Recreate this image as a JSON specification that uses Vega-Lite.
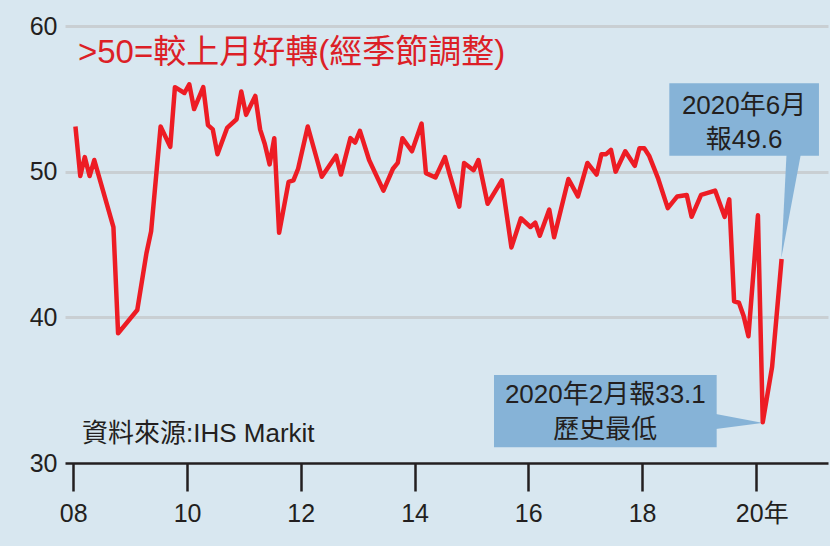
{
  "$schema": "https://vega.github.io/schema/vega-lite/v6.json",
  "width": 763,
  "height": 437,
  "autosize": {"type": "none"},
  "padding": {"left": 65, "top": 26, "right": 2, "bottom": 83},
  "background": "#d8e7f0",
  "config": {"view": {"stroke": null}, "font": "Liberation Sans, Noto Sans CJK TC"},
  "datasets": {
    "pmi": [
      {"date": "2008-01-15", "v": 53.1},
      {"date": "2008-02-15", "v": 49.7},
      {"date": "2008-03-15", "v": 51.0},
      {"date": "2008-04-15", "v": 49.7},
      {"date": "2008-05-15", "v": 50.8},
      {"date": "2008-09-15", "v": 46.2},
      {"date": "2008-10-15", "v": 38.9},
      {"date": "2009-02-15", "v": 40.5},
      {"date": "2009-04-15", "v": 44.4},
      {"date": "2009-05-15", "v": 45.9},
      {"date": "2009-07-15", "v": 53.1},
      {"date": "2009-09-15", "v": 51.7},
      {"date": "2009-10-15", "v": 55.8},
      {"date": "2009-12-15", "v": 55.4},
      {"date": "2010-01-15", "v": 56.0},
      {"date": "2010-02-15", "v": 54.3},
      {"date": "2010-04-15", "v": 55.8},
      {"date": "2010-05-15", "v": 53.2},
      {"date": "2010-06-15", "v": 52.9},
      {"date": "2010-07-15", "v": 51.2},
      {"date": "2010-09-15", "v": 53.0},
      {"date": "2010-11-15", "v": 53.6},
      {"date": "2010-12-15", "v": 55.5},
      {"date": "2011-01-15", "v": 53.9},
      {"date": "2011-03-15", "v": 55.2},
      {"date": "2011-04-15", "v": 52.9},
      {"date": "2011-05-15", "v": 51.9},
      {"date": "2011-06-15", "v": 50.5},
      {"date": "2011-07-15", "v": 52.3},
      {"date": "2011-08-15", "v": 45.8},
      {"date": "2011-10-15", "v": 49.3},
      {"date": "2011-11-15", "v": 49.4},
      {"date": "2011-12-15", "v": 50.2},
      {"date": "2012-02-15", "v": 53.1},
      {"date": "2012-05-15", "v": 49.65},
      {"date": "2012-08-15", "v": 51.1},
      {"date": "2012-09-15", "v": 49.8},
      {"date": "2012-11-15", "v": 52.3},
      {"date": "2012-12-15", "v": 52.0},
      {"date": "2013-01-15", "v": 52.8},
      {"date": "2013-03-15", "v": 50.8},
      {"date": "2013-06-15", "v": 48.7},
      {"date": "2013-08-15", "v": 50.2},
      {"date": "2013-09-15", "v": 50.6},
      {"date": "2013-10-15", "v": 52.3},
      {"date": "2013-12-15", "v": 51.4},
      {"date": "2014-02-15", "v": 53.3},
      {"date": "2014-03-15", "v": 49.9},
      {"date": "2014-05-15", "v": 49.6},
      {"date": "2014-07-15", "v": 51.0},
      {"date": "2014-08-15", "v": 49.8},
      {"date": "2014-10-15", "v": 47.6},
      {"date": "2014-11-15", "v": 50.6},
      {"date": "2015-01-15", "v": 50.1},
      {"date": "2015-02-15", "v": 50.8},
      {"date": "2015-04-15", "v": 47.8},
      {"date": "2015-07-15", "v": 49.4},
      {"date": "2015-09-15", "v": 44.8},
      {"date": "2015-11-15", "v": 46.8},
      {"date": "2016-01-15", "v": 46.2},
      {"date": "2016-02-15", "v": 46.5},
      {"date": "2016-03-15", "v": 45.6},
      {"date": "2016-05-15", "v": 47.4},
      {"date": "2016-06-15", "v": 45.5},
      {"date": "2016-09-15", "v": 49.5},
      {"date": "2016-11-15", "v": 48.3},
      {"date": "2017-01-15", "v": 50.6},
      {"date": "2017-03-15", "v": 49.8},
      {"date": "2017-04-15", "v": 51.2},
      {"date": "2017-05-15", "v": 51.2},
      {"date": "2017-06-15", "v": 51.5},
      {"date": "2017-07-15", "v": 50.0},
      {"date": "2017-09-15", "v": 51.4},
      {"date": "2017-11-15", "v": 50.4},
      {"date": "2017-12-15", "v": 51.6},
      {"date": "2018-01-15", "v": 51.6},
      {"date": "2018-02-15", "v": 51.1},
      {"date": "2018-04-15", "v": 49.5},
      {"date": "2018-06-15", "v": 47.5},
      {"date": "2018-08-15", "v": 48.3},
      {"date": "2018-10-15", "v": 48.4},
      {"date": "2018-11-15", "v": 46.9},
      {"date": "2019-01-15", "v": 48.4},
      {"date": "2019-04-15", "v": 48.7},
      {"date": "2019-06-15", "v": 46.9},
      {"date": "2019-07-15", "v": 48.1},
      {"date": "2019-08-15", "v": 41.1},
      {"date": "2019-09-15", "v": 41.0},
      {"date": "2019-10-15", "v": 40.1},
      {"date": "2019-11-15", "v": 38.7},
      {"date": "2020-01-15", "v": 47.0},
      {"date": "2020-02-15", "v": 32.8},
      {"date": "2020-04-15", "v": 36.6},
      {"date": "2020-06-15", "v": 44.0}
    ],
    "ptr1": [
      {"v": 51.5, "date": "2020-07-18", "date2": "2020-10-22"},
      {"v": 44.05, "date": "2020-06-13", "date2": "2020-06-13"}
    ],
    "ptr2": [
      {"date": "2019-04-20", "v": 33.36, "v2": 32.33},
      {"date": "2020-02-10", "v": 32.76, "v2": 32.74}
    ]
  },
  "layer": [
    {
      "data": {"values": [{}]},
      "mark": {"type": "rect", "color": "#86b3d7"},
      "encoding": {
        "x": {"datum": {"year": 2018, "month": 6, "date": 25, "utc": true}, "type": "temporal", "title": null},
        "x2": {"datum": {"year": 2021, "month": 2, "date": 10, "utc": true}},
        "y": {"datum": 56.07, "type": "quantitative", "title": null},
        "y2": {"datum": 51.1}
      }
    },
    {
      "data": {"values": [{}]},
      "mark": {"type": "rect", "color": "#86b3d7"},
      "encoding": {
        "x": {"datum": {"year": 2015, "month": 5, "date": 26, "utc": true}, "type": "temporal", "title": null},
        "x2": {"datum": {"year": 2019, "month": 4, "date": 25, "utc": true}},
        "y": {"datum": 36.04, "type": "quantitative", "title": null},
        "y2": {"datum": 31.08}
      }
    },
    {
      "data": {"name": "ptr1"},
      "mark": {"type": "area", "orient": "horizontal", "color": "#86b3d7"},
      "encoding": {
        "y": {"field": "v", "type": "quantitative", "title": null},
        "x": {"field": "date", "type": "temporal", "title": null},
        "x2": {"field": "date2"}
      }
    },
    {
      "data": {"name": "ptr2"},
      "mark": {"type": "area", "orient": "vertical", "color": "#86b3d7"},
      "encoding": {
        "x": {"field": "date", "type": "temporal", "title": null},
        "y": {"field": "v", "type": "quantitative", "title": null},
        "y2": {"field": "v2"}
      }
    },
    {
      "data": {"name": "pmi"},
      "mark": {"type": "line", "color": "#ed1c24", "strokeWidth": 4.5, "strokeJoin": "round", "strokeCap": "butt"},
      "encoding": {
        "x": {
          "field": "date",
          "type": "temporal",
          "title": null,
          "scale": {
            "type": "utc",
            "domain": [
              {"year": 2007, "month": 11, "date": 9, "utc": true},
              {"year": 2021, "month": 4, "date": 9, "utc": true}
            ]
          },
          "axis": {
            "values": [
              {"year": 2008, "month": 1, "date": 1, "utc": true},
              {"year": 2010, "month": 1, "date": 1, "utc": true},
              {"year": 2012, "month": 1, "date": 1, "utc": true},
              {"year": 2014, "month": 1, "date": 1, "utc": true},
              {"year": 2016, "month": 1, "date": 1, "utc": true},
              {"year": 2018, "month": 1, "date": 1, "utc": true},
              {"year": 2020, "month": 1, "date": 1, "utc": true}
            ],
            "labelExpr": "utcyear(datum.value) == 2020 ? '20年' : utcFormat(datum.value, '%y')",
            "grid": false,
            "domainColor": "#231f20",
            "domainWidth": 2.5,
            "tickColor": "#231f20",
            "tickWidth": 2.5,
            "tickSize": 28,
            "labelFontSize": 25,
            "labelColor": "#231f20",
            "labelPadding": 10,
            "labelFlush": false,
            "labelOverlap": false,
            "labelOffset": {"condition": {"test": "utcyear(datum.value) == 2020", "value": 6}, "value": 0}
          }
        },
        "y": {
          "field": "v",
          "type": "quantitative",
          "title": null,
          "scale": {"domain": [30, 60], "nice": false, "zero": false},
          "axis": {
            "values": [30, 40, 50, 60],
            "domain": false,
            "ticks": false,
            "grid": true,
            "gridColor": "#c9cfd3",
            "gridWidth": 3,
            "gridOpacity": {"condition": {"test": "datum.value == 30", "value": 0}, "value": 1},
            "labelFontSize": 25,
            "labelColor": "#231f20",
            "labelPadding": 8
          }
        }
      }
    },
    {
      "data": {"values": [{}]},
      "mark": {"type": "text", "text": ">50=較上月好轉(經季節調整)", "align": "left", "baseline": "alphabetic", "fontSize": 33, "color": "#dc1f27"},
      "encoding": {
        "x": {"datum": {"year": 2008, "month": 1, "date": 31, "utc": true}, "type": "temporal"},
        "y": {"datum": 57.44, "type": "quantitative"}
      }
    },
    {
      "data": {"values": [{}]},
      "mark": {"type": "text", "text": "資料來源:IHS Markit", "align": "left", "baseline": "alphabetic", "fontSize": 26, "color": "#231f20"},
      "encoding": {
        "x": {"datum": {"year": 2008, "month": 2, "date": 26, "utc": true}, "type": "temporal"},
        "y": {"datum": 31.41, "type": "quantitative"}
      }
    },
    {
      "data": {"values": [{}]},
      "mark": {"type": "text", "text": ["2020年6月", "報49.6"], "align": "center", "baseline": "alphabetic", "fontSize": 26, "lineHeight": 34, "color": "#231f20"},
      "encoding": {
        "x": {"datum": {"year": 2019, "month": 10, "date": 18, "utc": true}, "type": "temporal"},
        "y": {"datum": 53.99, "type": "quantitative"}
      }
    },
    {
      "data": {"values": [{}]},
      "mark": {"type": "text", "text": ["2020年2月報33.1", "歷史最低"], "align": "center", "baseline": "alphabetic", "fontSize": 26, "lineHeight": 35, "color": "#231f20"},
      "encoding": {
        "x": {"datum": {"year": 2017, "month": 5, "date": 10, "utc": true}, "type": "temporal"},
        "y": {"datum": 34.12, "type": "quantitative"}
      }
    }
  ]
}
